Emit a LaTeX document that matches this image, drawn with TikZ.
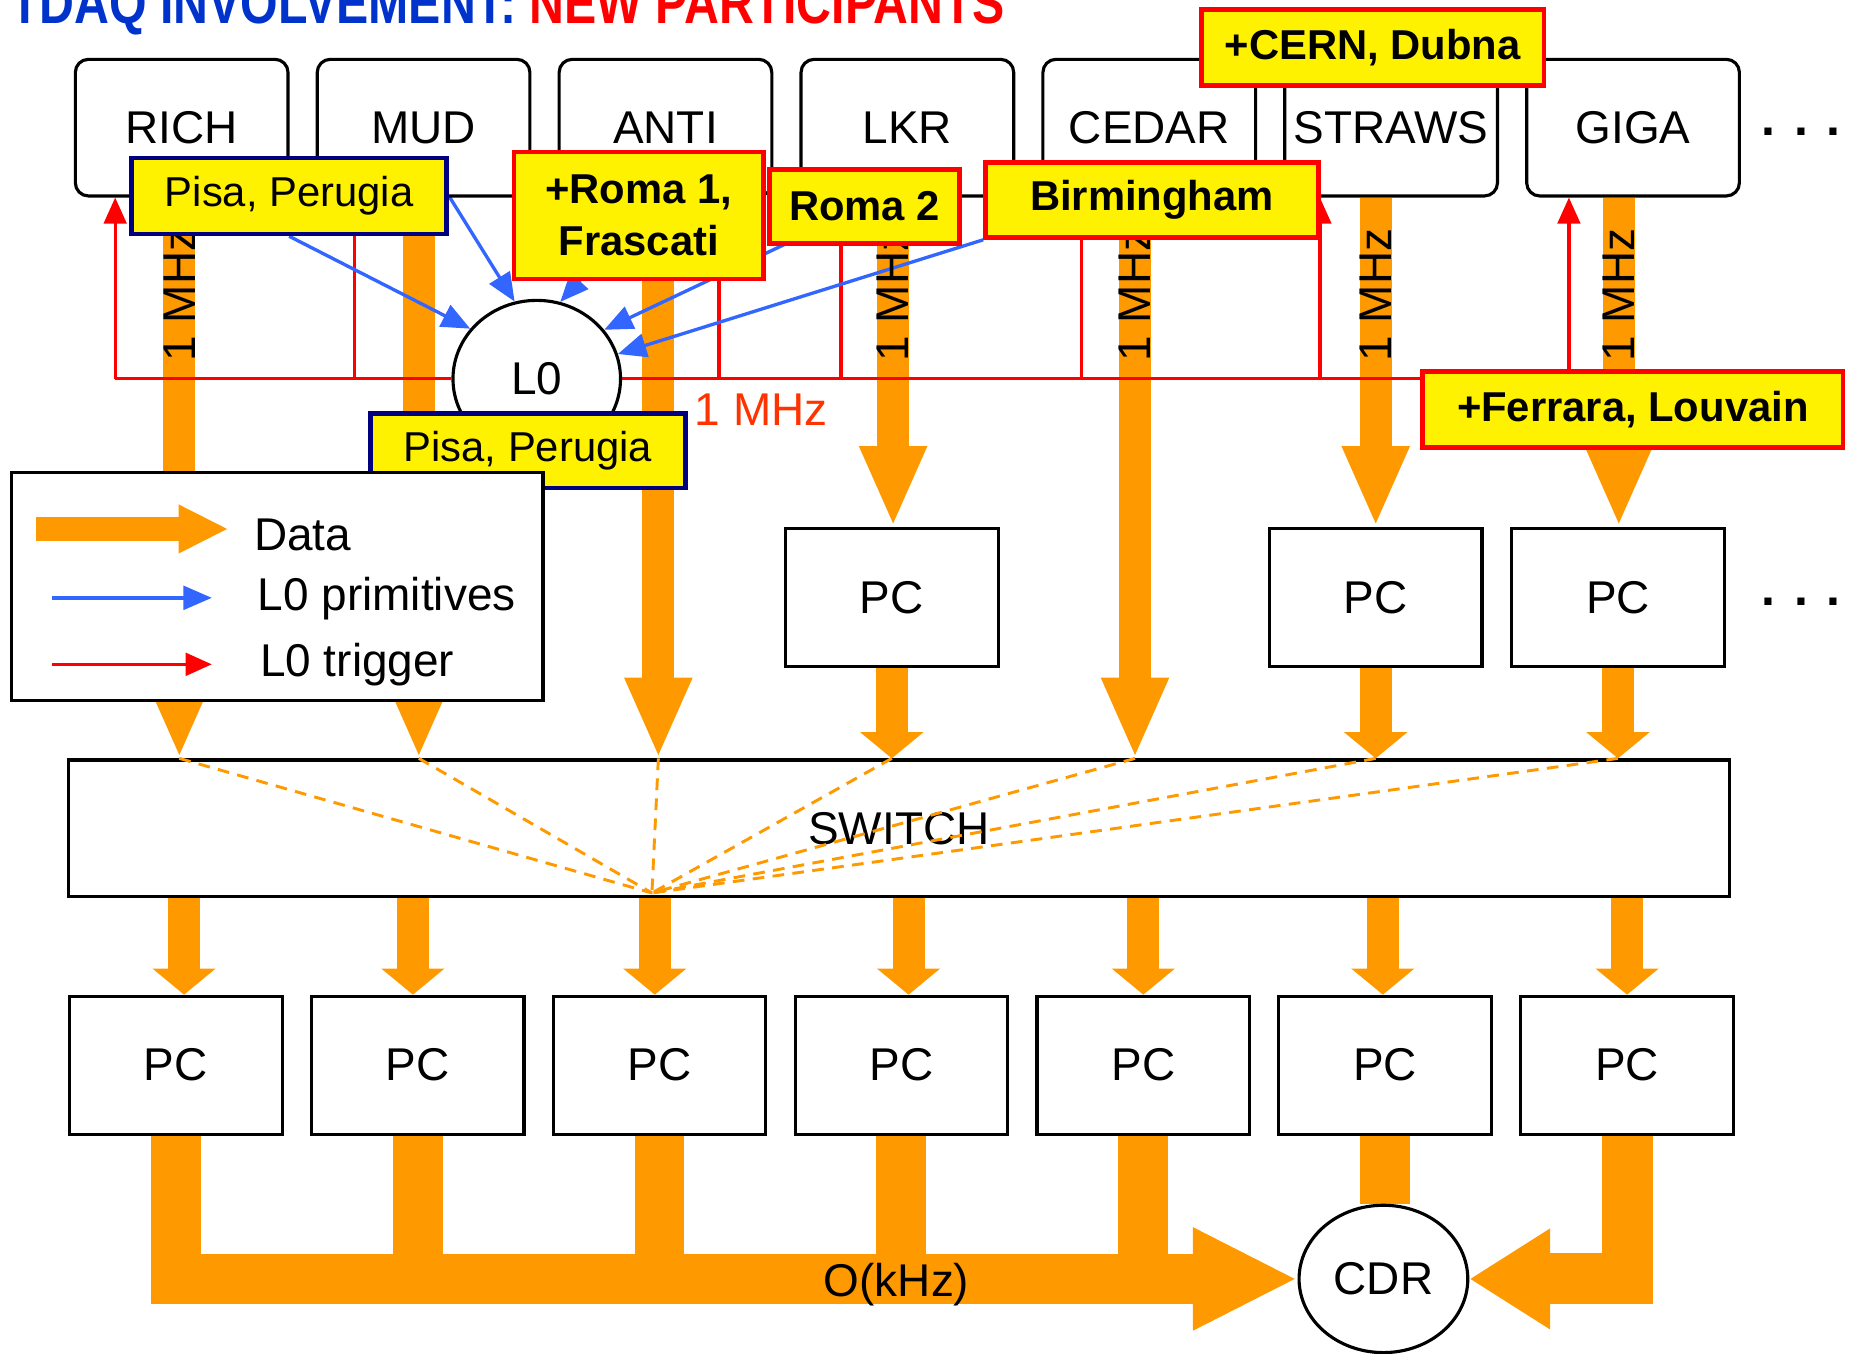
\documentclass[tikz,border=0pt]{standalone}
\usepackage{fontspec}
\setmainfont{Liberation Sans}
\newfontfamily\titlefont[FakeStretch=0.82]{Liberation Sans}
\usepackage{tikz}
\usetikzlibrary{arrows.meta}
\usetikzlibrary{shapes.geometric}
\usetikzlibrary{calc}
\tikzset{>=latex}
\definecolor{dataorange}{RGB}{255,153,0}
\definecolor{primblue}{RGB}{51,102,255}
\definecolor{labelnavy}{RGB}{0,0,128}
\definecolor{titleblue}{RGB}{0,51,204}
\definecolor{mhzred}{RGB}{255,51,0}
\pgfdeclarelayer{back}
\pgfsetlayers{back,main}
\tikzset{
  det/.style={draw, line width=0.75pt, rounded corners=0.11cm, minimum width=1.79cm, minimum height=1.15cm, inner sep=0pt, font=\fontsize{11}{13}\selectfont},
  pcbox/.style={draw, line width=0.75pt, minimum width=1.79cm, minimum height=1.16cm, inner sep=0pt, font=\fontsize{11}{13}\selectfont},
  blob/.style={ellipse, draw, line width=0.75pt, fill=white, inner sep=0pt, font=\fontsize{11}{13}\selectfont},
  inst/.style={draw=red, fill=yellow, line width=1.1pt, inner sep=0pt, align=center, font=\fontsize{10}{12.5}\selectfont\bfseries},
  lab/.style={draw=labelnavy, fill=yellow, line width=1.1pt, inner sep=0pt, font=\fontsize{10}{12}\selectfont},
  datapath/.style={draw=dataorange, line width=0.27cm, -{Triangle[length=0.68cm,width=0.52cm]}},
  datashort/.style={draw=dataorange, line width=0.27cm, -{Triangle[length=0.22cm,width=0.52cm]}},
  bus/.style={draw=dataorange, line width=0.42cm},
  fan/.style={draw=dataorange, line width=0.7pt, dash pattern=on 2.8pt off 2pt},
  prim/.style={draw=primblue, line width=0.8pt, -{Triangle[length=0.24cm,width=0.2cm]}},
  trig/.style={draw=red, line width=0.8pt, -{Triangle[length=0.22cm,width=0.19cm]}},
  rate/.style={font=\fontsize{11}{13}\selectfont},
}
\begin{document}
\begin{tikzpicture}[x=0.01cm, y=-0.01cm]
  \useasboundingbox (0,0) rectangle (1568,1140);
  \foreach \d/\n [count=\i from 0] in {rich/RICH,mud/MUD,anti/ANTI,lkr/LKR,cedar/CEDAR,straws/STRAWS,giga/GIGA}
    \node[det] (\d) at ({153+\i*203.7},107.5) {\n};
  \foreach \d/\s/\t in {rich/-2/-56,mud/-4/-58,anti/-6/45,lkr/-12/-56,cedar/-12/-57,straws/-13/-60,giga/-12/-54} {
    \coordinate (bar\d) at ($(\d.south)+(\s,0)$);
    \coordinate (tap\d) at ($(\d.south)+(\t,0)$);
  }
  \foreach \d in {rich,lkr,cedar,straws,giga}
    \node[rate, rotate=90] (mhz\d) at ($(bar\d)+(0,82)$) {1 MHz};
  \node[pcbox] (pcA) at (751,503) {PC};
  \node[pcbox] (pcB) at (1158.5,503) {PC};
  \node[pcbox] (pcC) at (1362.5,503) {PC};
  \node[draw, line width=0.75pt, minimum width=13.98cm, minimum height=1.15cm, inner sep=0pt, font=\fontsize{11}{13}\selectfont] (switch) at (757,697.5) {SWITCH};
  \foreach \i in {1,...,7}
    \node[pcbox] (pc\i) at ({148+(\i-1)*203.7},897) {PC};
  \foreach \p/\s in {pc1/7,pc2/-4,pc3/-4,pc4/6,pc5/0,pc6/-2,pc7/0}
    \coordinate (in\p) at ($(\p.north)+(\s,0)$);
  \coordinate (hub) at (549,752);
  \node[blob, minimum width=1.41cm, minimum height=1.32cm] (lzero) at (452,319) {L0};
  \node[blob, minimum width=1.42cm, minimum height=1.24cm] (cdr) at (1165,1077) {CDR};
  \node[lab, minimum width=2.65cm, minimum height=0.64cm] (pisaA) at (243.5,165) {Pisa, Perugia};
  \node[inst, minimum width=2.10cm, minimum height=1.07cm] (roma1) at (538,181.5) {+Roma 1,\\Frascati};
  \node[inst, minimum width=1.60cm, minimum height=0.62cm] (roma2) at (728,174) {Roma 2};
  \node[inst, minimum width=2.80cm, minimum height=0.63cm] (birm) at (970,168.5) {Birmingham};
  \node[inst, minimum width=2.88cm, minimum height=0.64cm] (cern) at (1156,40) {+CERN, Dubna};
  \node[inst, minimum width=3.54cm, minimum height=0.64cm] (ferrara) at (1375,345) {+Ferrara, Louvain};
  \node[lab, minimum width=2.65cm, minimum height=0.63cm] (pisaB) at (444.5,379.5) {Pisa, Perugia};
  \node[rate, text=mhzred] (trigrate) at (641,345) {1 MHz};
  \node[draw, line width=0.85pt, fill=white, minimum width=4.47cm, minimum height=1.92cm, inner sep=0pt] (legend) at (233.5,494) {};
  \draw[draw=dataorange, line width=0.2cm, -{Triangle[length=0.42cm,width=0.38cm]}] ($(legend.north west)+(22,49)$) -- ($(legend.north west)+(184,49)$);
  \draw[prim] ($(legend.north west)+(35,107)$) -- ($(legend.north west)+(170,107)$);
  \draw[trig] ($(legend.north west)+(35,163)$) -- ($(legend.north west)+(170,163)$);
  \node[rate, anchor=base west, inner sep=0pt] (keydata) at ($(legend.north west)+(205,67)$) {Data};
  \node[rate, anchor=base west, inner sep=0pt] (keyprim) at ($(legend.north west)+(208,118)$) {L0 primitives};
  \node[rate, anchor=base west, inner sep=0pt] (keytrig) at ($(legend.north west)+(210,173)$) {L0 trigger};
  \node[font=\fontsize{12}{14}\selectfont\bfseries] (dotsA) at (1517,111) {. . .};
  \node[font=\fontsize{12}{14}\selectfont\bfseries] (dotsB) at (1517,507) {. . .};
  \node[anchor=base west] (title) at (-4,20) {\titlefont\fontsize{14.1}{16}\selectfont\bfseries\color{titleblue}TDAQ INVOLVEMENT: \color{red}NEW PARTICIPANTS};
  \begin{pgfonlayer}{back}
    \foreach \d in {rich,mud,anti,cedar}
      \draw[datapath] (bar\d) -- (bar\d |- switch.north);
    \draw[datapath] (barlkr) -- (barlkr |- pcA.north);
    \draw[datapath] (barstraws) -- (barstraws |- pcB.north);
    \draw[datapath] (bargiga) -- (bargiga |- pcC.north);
    \foreach \p in {pcA,pcB,pcC}
      \draw[datashort] (\p.south) -- (\p.south |- switch.north);
    \foreach \i in {1,...,7}
      \draw[datashort] (inpc\i |- switch.south) -- (inpc\i);
    \draw[bus, -{Triangle[length=0.88cm,width=0.8cm]}] (pc1.south) -- (pc1.south |- cdr.west) -- (cdr.west);
    \foreach \i in {2,...,5}
      \draw[bus] (pc\i.south) -- (pc\i.south |- cdr.west);
    \draw[bus] (pc6.south) -- (pc6.south |- cdr.north);
    \draw[bus, line width=0.43cm, -{Triangle[length=0.68cm,width=0.8cm]}] (pc7.south) -- (pc7.south |- cdr.east) -- (cdr.east);
    \draw[trig, -] (taprich |- lzero.west) -- (lzero.west);
    \draw[trig, -] (lzero.east) -- (tapgiga |- lzero.east);
    \foreach \d in {rich,mud,anti,lkr,cedar,straws,giga}
      \draw[trig] (tap\d |- lzero.center) -- (tap\d);
    \draw[prim] (pisaA.south) -- (lzero.143);
    \draw[prim] (pisaA.east) -- (lzero.106);
    \draw[prim] (roma1.center) -- (lzero.73);
    \draw[prim] (roma2.center) -- (lzero.36);
    \draw[prim] (birm.south west) -- (lzero.17);
  \end{pgfonlayer}
  \foreach \d in {rich,mud,anti,cedar}
    \draw[fan] (bar\d |- switch.north) -- (hub);
  \foreach \p in {pcA,pcB,pcC}
    \draw[fan] (\p.south |- switch.north) -- (hub);
  \node[rate] (okhz) at (755,1082) {O(kHz)};
\end{tikzpicture}
\end{document}
